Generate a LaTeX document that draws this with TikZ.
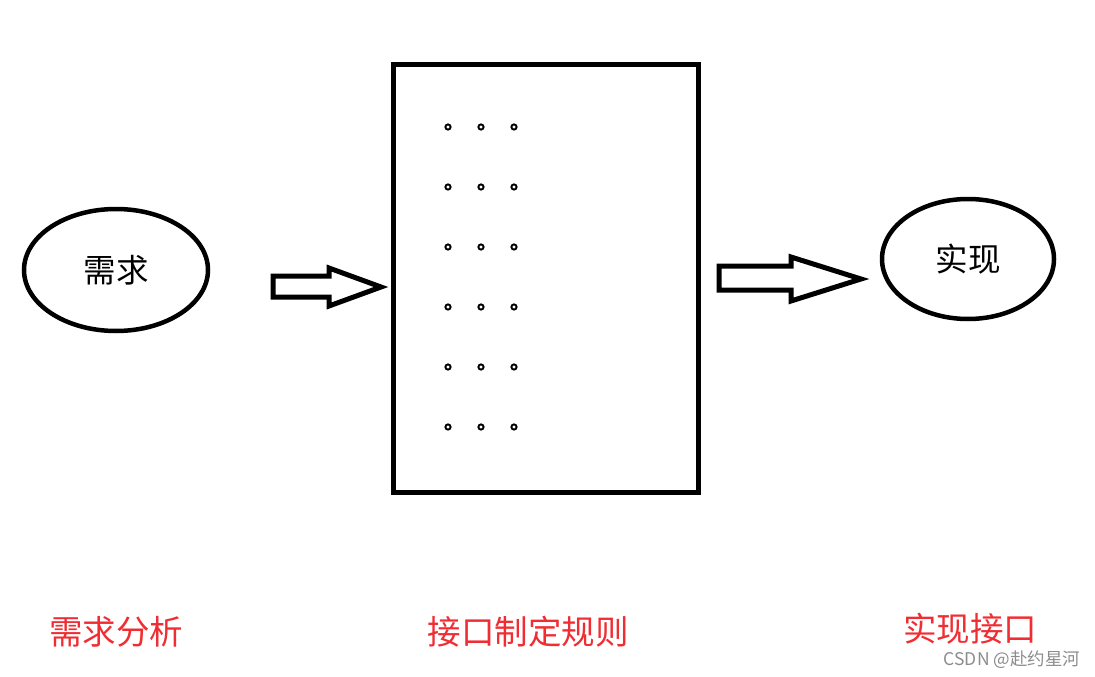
\documentclass[tikz,border=0pt]{standalone}
\usepackage{fontspec}
\setmainfont{Noto Sans CJK SC}
\definecolor{labelred}{RGB}{240,45,50}
\definecolor{markgray}{RGB}{140,140,140}
\tikzset{
	bubble/.style={draw, line width=4.5pt, ellipse, inner sep=0pt},
	blockarrow/.style={draw, line width=5pt, line join=miter},
	caption/.style={text=labelred, font=\fontsize{33.5}{33.5}\selectfont}
}
\usetikzlibrary{shapes.geometric}
\begin{document}
\begin{tikzpicture}[x=1pt,y=-1pt]
	\useasboundingbox (0,0) rectangle (1095,677);
	\node [bubble, minimum width=184pt, minimum height=122pt, font=\fontsize{32.5}{32.5}\selectfont] (need) at (116,270) {需求};
	\node [bubble, minimum width=172pt, minimum height=120pt, font=\fontsize{32.5}{32.5}\selectfont] (impl) at (968,259) {实现};
	\draw [line width=5pt] (393,65) rectangle (698,492);
	\foreach \r in {127,187,...,427} \foreach \c in {448,481,514} \draw [line width=1.9pt] (\c,\r) circle (2.6pt);
	\draw [blockarrow] (273,276) -- (329,276) -- (329,268) -- (381,287) -- (329,306) -- (329,297) -- (273,297) -- cycle;
	\draw [blockarrow] (719,266) -- (791,266) -- (791,257) -- (861,279) -- (791,301) -- (791,290) -- (719,290) -- cycle;
	\node [caption] (needcap) at (116,632) {需求分析};
	\node [caption] (rulecap) at (528,632) {接口制定规则};
	\node [caption] (implcap) at (970,629) {实现接口};
	\node [text=markgray, font=\fontsize{17.5}{17.5}\selectfont] (mark) at (1012,660) {CSDN @赴约星河};
\end{tikzpicture}
\end{document}
